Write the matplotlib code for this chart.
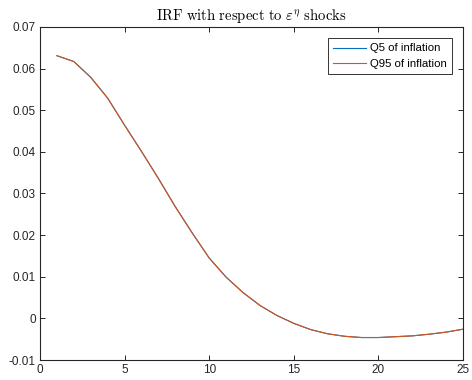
import numpy as np
import matplotlib
matplotlib.use("Agg")
import matplotlib.pyplot as plt

plt.rcParams["font.family"] = ["Liberation Sans", "DejaVu Sans"]
plt.rcParams["mathtext.fontset"] = "cm"

horizon = np.arange(1, 26)
q5_inflation = [0.0631, 0.0617, 0.0579, 0.0529, 0.0464, 0.0401, 0.0336, 0.0268, 0.0205,
                0.0145, 0.0099, 0.0062, 0.0031, 0.0007, -0.0012, -0.0027, -0.0037,
                -0.0043, -0.0046, -0.0046, -0.0044, -0.0042, -0.0038, -0.0033, -0.0026]
q95_inflation = list(q5_inflation)

fig = plt.figure(figsize=(4.72, 3.8), dpi=100)
ax = fig.add_axes([0.0847, 0.0526, 0.8963, 0.8764])

ax.plot(horizon, q5_inflation, color=(0, 0.447, 0.741), lw=0.8, label="Q5 of inflation")
ax.plot(horizon, q95_inflation, color=(0.85, 0.325, 0.098), lw=0.8, label="Q95 of inflation")

ax.set_xlim(0, 25)
ax.set_ylim(-0.01, 0.07)
ax.set_xticks([0, 5, 10, 15, 20, 25])
ax.set_yticks(np.arange(-0.01, 0.0701, 0.01))
ax.set_yticklabels(["-0.01", "0", "0.01", "0.02", "0.03", "0.04", "0.05", "0.06", "0.07"])

gray = (0.15, 0.15, 0.15)
for s in ax.spines.values():
    s.set_color(gray)
    s.set_linewidth(0.8)
ax.tick_params(direction="in", top=True, right=True, length=3.5, width=0.7,
               colors=gray, labelsize=8.5, pad=3)

ax.set_title(r"$\mathrm{IRF\ with\ respect\ to\ }\varepsilon^{\eta}\mathrm{\ shocks}$",
             fontsize=10.6, pad=5)

leg = ax.legend(loc="upper right", fontsize=8.2, frameon=True, fancybox=False,
                edgecolor="black", handlelength=2.9, handletextpad=0.3,
                borderpad=0.45, labelspacing=0.45, borderaxespad=1.0)
leg.get_frame().set_linewidth(0.7)

fig.savefig("out.png", dpi=100)
